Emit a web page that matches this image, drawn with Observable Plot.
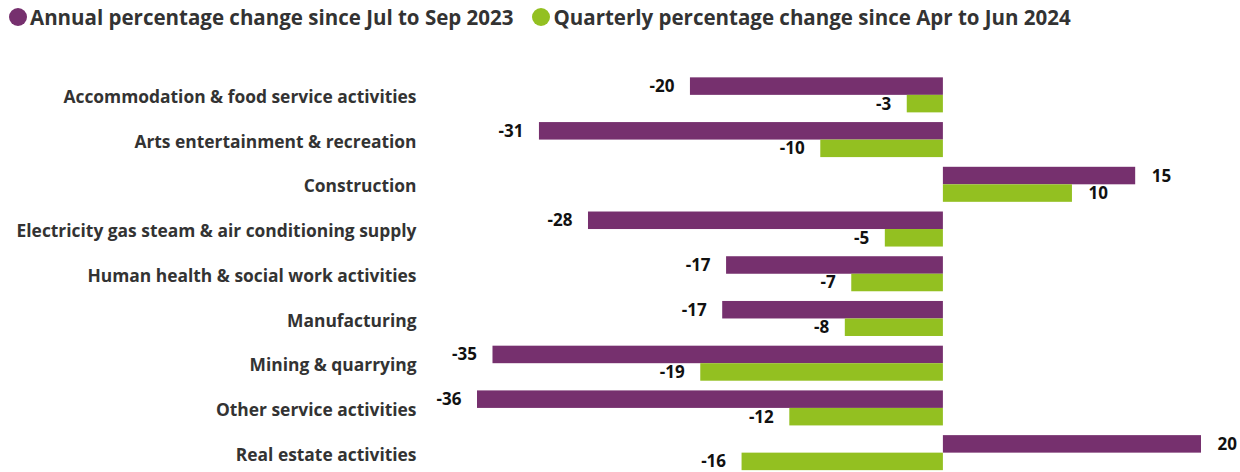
<!DOCTYPE html>
<html>
<head>
<meta charset="utf-8">
<script src="https://cdn.jsdelivr.net/npm/d3@7"></script>
<script src="https://cdn.jsdelivr.net/npm/@observablehq/plot@0.6"></script>
<style>
  html, body { margin: 0; background: #fff; overflow: hidden; font-family: "Open Sans", Lato, sans-serif; }
  #legend { height: 40px; overflow: hidden; display: flex; align-items: flex-start; padding-top: 5px; box-sizing: border-box; }
  .item { display: flex; align-items: center; font-size: 20.5px; font-weight: bold; color: #333; margin-right: 10px; line-height: 24px; }
  .dot { width: 18px; height: 18px; border-radius: 50%; margin-left: 9px; margin-right: 3px; display: inline-block; }
  #chart svg { display: block; max-width: none; }
</style>
</head>
<body>
<div id="legend"></div>
<div id="chart"></div>
<script>
const categories = [
  "Accommodation & food service activities",
  "Arts entertainment & recreation",
  "Construction",
  "Electricity gas steam & air conditioning supply",
  "Human health & social work activities",
  "Manufacturing",
  "Mining & quarrying",
  "Other service activities",
  "Real estate activities"
];
const seriesNames = [
  "Annual percentage change since Jul to Sep 2023",
  "Quarterly percentage change since Apr to Jun 2024"
];
const annual = [-19.6, -31.3, 14.9, -27.5, -16.8, -17.1, -34.9, -36.1, 20.0];
const quarterly = [-2.8, -9.5, 10.0, -4.5, -7.1, -7.6, -18.8, -11.9, -15.6];
const annualLabels = ["-20", "-31", "15", "-28", "-17", "-17", "-35", "-36", "20"];
const quarterlyLabels = ["-3", "-10", "10", "-5", "-7", "-8", "-19", "-12", "-16"];
const colors = ["#76306e", "#93c021"];

const legend = document.getElementById("legend");
seriesNames.forEach((s, i) => {
  const it = document.createElement("div");
  it.className = "item";
  const dot = document.createElement("span");
  dot.className = "dot";
  dot.style.background = colors[i];
  it.appendChild(dot);
  it.appendChild(document.createTextNode(s));
  legend.appendChild(it);
});

const rows = categories.flatMap((c, i) => [
  {cat: c, series: seriesNames[0], value: annual[i], label: annualLabels[i]},
  {cat: c, series: seriesNames[1], value: quarterly[i], label: quarterlyLabels[i]}
]);

const chart = Plot.plot({
  width: 1240,
  height: 435,
  marginTop: 32.5,
  marginBottom: 0,
  marginLeft: 477,
  marginRight: 39,
  style: {fontFamily: "'Open Sans', Lato, sans-serif", background: "white", overflow: "visible"},
  x: {domain: [-36.1, 20], axis: null},
  y: {domain: seriesNames, axis: null, paddingInner: 0, paddingOuter: 0.277, round: false},
  fy: {domain: categories, padding: 0, label: null, round: false},
  color: {domain: seriesNames, range: colors},
  marks: [
    Plot.barX(rows, {fy: "cat", y: "series", x: "value", fill: "series"}),
    Plot.text(rows.filter(d => d.value < 0), {
      fy: "cat", y: "series", x: "value", text: "label",
      textAnchor: "end", dx: -16, fontSize: 17, fontWeight: "bold", fill: "#111"
    }),
    Plot.text(rows.filter(d => d.value >= 0), {
      fy: "cat", y: "series", x: "value", text: "label",
      textAnchor: "start", dx: 16, fontSize: 17, fontWeight: "bold", fill: "#111"
    }),
    Plot.axisFy({anchor: "left", tickSize: 0, tickPadding: 61, fontSize: 17.4, fontWeight: "bold", fill: "#333", dy: 2, label: null})
  ]
});
document.getElementById("chart").appendChild(chart);
</script>
</body>
</html>
